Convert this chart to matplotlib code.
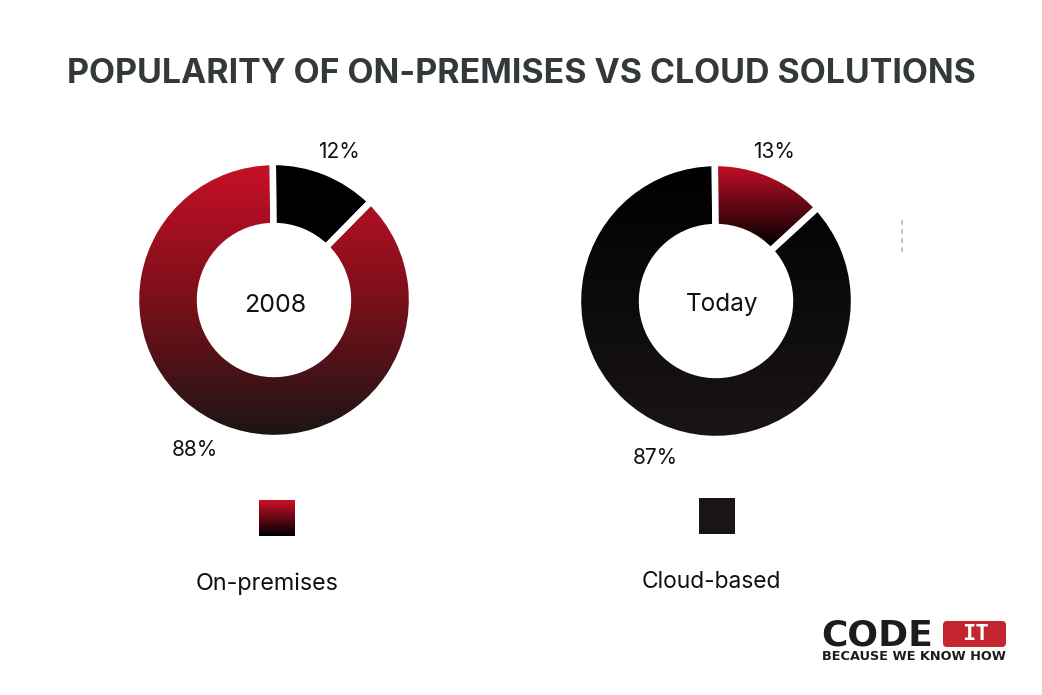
import matplotlib
matplotlib.use("Agg")
import matplotlib.pyplot as plt
import numpy as np
from matplotlib.colors import LinearSegmentedColormap
from matplotlib.patches import FancyBboxPatch, Rectangle

W, H = 1042, 695

# data
years = ["2008", "Today"]
slices_2008 = [12.5, 87.5]
slices_today = [13.3, 86.7]
labels_2008 = ["12%", "88%"]
labels_today = ["13%", "87%"]
legend_names = ["On-premises", "Cloud-based"]

DARK = "#1a1516"
RED = "#c90f28"

grad_red_dark = LinearSegmentedColormap.from_list("rd", [RED, "#7a1019", DARK])
grad_red_black = LinearSegmentedColormap.from_list("rb", [RED, "#000000"])
grad_black_dark = LinearSegmentedColormap.from_list("bd", ["#000000", DARK])
grad_black = LinearSegmentedColormap.from_list("bb", ["#000000", "#000000"])

RADIUS_PX = 138
HOLE_PX = 74


def donut(cx, cy, values, cmaps, wedge_tops):
    # one axes per ring, sized so data radius 1 is RADIUS_PX pixels
    ax = fig.add_axes([(cx - RADIUS_PX) / W, 1 - (cy + RADIUS_PX) / H,
                       2 * RADIUS_PX / W, 2 * RADIUS_PX / H])
    wedges, _ = ax.pie(values, startangle=90.5, counterclock=False, radius=1,
                       wedgeprops=dict(width=1 - HOLE_PX / RADIUS_PX, facecolor="none",
                                       edgecolor="white", linewidth=4.6, zorder=3))
    ramp = np.linspace(0, 1, 256).reshape(-1, 1)
    for wedge, cmap, bottom in zip(wedges, cmaps, wedge_tops):
        # gradient runs from the top of the ring down to "bottom" (data y)
        im = ax.imshow(ramp, cmap=cmap, extent=[-1, 1, bottom, 1], origin="upper",
                       aspect="auto", zorder=1)
        im.set_clip_path(wedge)
    ax.set_xlim(-1, 1)
    ax.set_ylim(-1, 1)
    ax.axis("off")
    ax.patch.set_visible(False)
    return ax


fig = plt.figure(figsize=(W / 100, H / 100), dpi=100, facecolor="white")

donut(274, 300, slices_2008, [grad_black, grad_red_dark], [-1, -1])
donut(716, 301, slices_today, [grad_red_black, grad_black_dark], [0.4, -1])

# overlay in pixel coordinates for the text and legend
ov = fig.add_axes([0, 0, 1, 1])
ov.patch.set_visible(False)

TEXT = "#33383b"
ov.text(521, 74, "POPULARITY OF ON-PREMISES VS CLOUD SOLUTIONS", ha="center", va="center",
        fontsize=24.4, fontweight="bold", family="Inter", color=TEXT)

font = dict(family="Inter", fontsize=15, color="#111111", ha="center", va="center")
ov.text(339, 151.5, labels_2008[0], **font)
ov.text(195, 450.5, labels_2008[1], **font)
ov.text(774, 152.5, labels_today[0], **font)
ov.text(655, 458.5, labels_today[1], **font)
ov.text(275, 305, years[0], **dict(font, fontsize=18))
ov.text(722, 304, years[1], **dict(font, fontsize=17.5))
ov.text(267, 584, legend_names[0], **dict(font, fontsize=16.8))
ov.text(711, 582, legend_names[1], **dict(font, fontsize=16.4))

# legend swatches
ov.imshow(np.linspace(0, 1, 64).reshape(-1, 1), cmap=grad_red_black,
          extent=[259, 295, 536, 500], aspect="auto", origin="upper")
ov.add_patch(Rectangle((699, 498), 36, 36, facecolor=DARK, edgecolor="none"))

# faint dashed line on the right
ov.plot([902, 902], [220, 252], color="#c4c4c4", lw=1.5, ls=(0, (2.2, 2.2)))

# logo
ov.text(821, 635, "CODE", family="DejaVu Sans", fontweight="bold", fontsize=26,
        color="#1c1c1c", ha="left", va="center")
ov.add_patch(FancyBboxPatch((943, 621), 63, 26, boxstyle="round,pad=0,rounding_size=4",
                            facecolor="#c3262e", edgecolor="none"))
ov.text(975, 634, "IT", family="DejaVu Sans Mono", fontweight="bold", fontsize=16,
        color="white", ha="center", va="center")
ov.text(822, 657, "BECAUSE WE KNOW HOW", family="DejaVu Sans", fontweight="bold", fontsize=9.3,
        color="#1c1c1c", ha="left", va="center")

ov.set_xlim(0, W)
ov.set_ylim(H, 0)
ov.axis("off")

fig.savefig("out.png", dpi=100)
